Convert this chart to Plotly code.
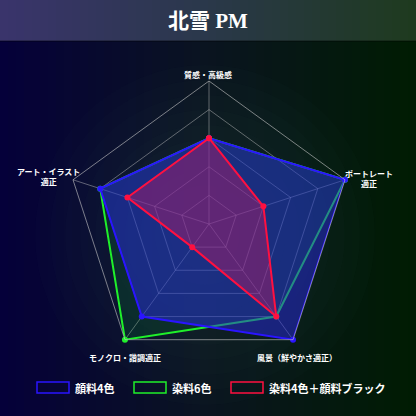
"""
Radar chart - 北雪 PM
"""
import plotly.graph_objects as go

W, H = 416, 416

# --- data ---
title_text = "北雪 PM"
categories = ["質感・高級感", "ポートレート適正", "風景（鮮やかさ適正）", "モノクロ・諧調適正", "アート・イラスト適正"]
label_texts = ["質感・高級感", "ポートレート<br>適正", "風景（鮮やかさ適正）", "モノクロ・諧調適正", "アート・イラスト<br>適正"]
series_names = ["顔料4色", "染料6色", "染料4色＋顔料ブラック"]
pigment4 = [3, 5, 5, 4, 4]
dye6 = [3, 5, 4, 5, 4]
dye4_black = [3, 2, 4, 1, 3]


def px_x(x):
    return x / W


def px_y(y):
    return 1 - y / H


def lerp_color(stops, t):
    """linear interpolation between colour stops [(pos, (r,g,b)), ...]"""
    for (p0, c0), (p1, c1) in zip(stops[:-1], stops[1:]):
        if p0 <= t <= p1:
            k = (t - p0) / (p1 - p0)
            c = [round(a + (b - a) * k) for a, b in zip(c0, c1)]
            return f"rgb({c[0]},{c[1]},{c[2]})"
    c = stops[-1][1]
    return f"rgb({c[0]},{c[1]},{c[2]})"


body_stops = [(0.0, (5, 0, 58)), (0.5, (10, 20, 32)), (1.0, (0, 28, 2))]
band_stops = [(0.0, (58, 52, 108)), (0.5, (42, 56, 74)), (1.0, (30, 58, 30))]

shapes = []
n_strips = 52
for i in range(n_strips):
    t = (i + 0.5) / n_strips
    x0, x1 = i / n_strips, (i + 1) / n_strips + 0.002
    shapes.append(dict(type="rect", xref="paper", yref="paper", x0=x0, x1=x1,
                       y0=0, y1=px_y(41), fillcolor=lerp_color(body_stops, t),
                       line=dict(width=0), layer="below"))
    shapes.append(dict(type="rect", xref="paper", yref="paper", x0=x0, x1=x1,
                       y0=px_y(41), y1=1, fillcolor=lerp_color(band_stops, t),
                       line=dict(width=0), layer="below"))
# soft glow in the middle of the body
for r in range(170, 20, -15):
    shapes.append(dict(type="circle", xref="paper", yref="paper",
                       x0=px_x(205 - r), x1=px_x(205 + r), y0=px_y(235 + r), y1=px_y(235 - r),
                       fillcolor="rgb(70,95,95)", opacity=0.035, line=dict(width=0), layer="below"))
# thin line under the title band
shapes.append(dict(type="line", xref="paper", yref="paper", x0=0, x1=1, y0=px_y(41), y1=px_y(41),
                   line=dict(color="rgba(0,0,0,0.35)", width=1.5), layer="below"))

fig = go.Figure()

styles = [
    (dye6, series_names[1], "#1ff02a", "rgba(0,190,40,0.13)"),
    (pigment4, series_names[0], "#2a14ff", "rgba(40,40,220,0.5)"),
    (dye4_black, series_names[2], "#ff1040", "rgba(255,20,90,0.3)"),
]
for values, name, line_col, fill_col in styles:
    fig.add_trace(go.Scatterpolar(
        r=values + values[:1],
        theta=categories + categories[:1],
        name=name,
        mode="lines+markers",
        fill="toself",
        fillcolor=fill_col,
        line=dict(color=line_col, width=2),
        marker=dict(color=line_col, size=6),
        showlegend=False,
        hoverinfo="skip",
    ))

# polar area : centre (209, 224) px, radius 143 px
cx, cy, R = 209, 224, 143
fig.update_layout(
    width=W, height=H,
    margin=dict(l=0, r=0, t=0, b=0),
    paper_bgcolor="#050020",
    polar=dict(
        domain=dict(x=[px_x(cx - R), px_x(cx + R)], y=[px_y(cy + R), px_y(cy - R)]),
        bgcolor="rgba(0,0,0,0)",
        gridshape="linear",
        angularaxis=dict(rotation=90, direction="clockwise", showticklabels=False,
                         ticks="", linecolor="rgba(200,200,200,0.6)", linewidth=1,
                         gridcolor="rgba(200,200,200,0.45)", gridwidth=1),
        radialaxis=dict(range=[0, 5], dtick=1, showticklabels=False, ticks="",
                        showline=False, gridcolor="rgba(200,200,200,0.45)", gridwidth=1),
    ),
)

font_jp = "Noto Sans CJK JP"
annotations = [
    dict(text=title_text, x=0.5, y=px_y(21), font=dict(family="Liberation Serif, Noto Sans CJK JP",
                                                       size=21, color="white", weight="bold")),
]
label_pos = [(208, 74), (369, 178), (297, 357), (125, 357), (48, 177)]
for text, (x, y) in zip(label_texts, label_pos):
    annotations.append(dict(text=text, x=px_x(x), y=px_y(y),
                            font=dict(family=font_jp, size=8, color="white", weight="bold")))

# legend boxes
legend_items = [(series_names[0], "#2a14ff", 37, 73),
                (series_names[1], "#1ff02a", 134, 170),
                (series_names[2], "#ff1040", 231, 267)]
for name, col, bx, tx in legend_items:
    shapes.append(dict(type="rect", xref="paper", yref="paper",
                       x0=px_x(bx), x1=px_x(bx + 32), y0=px_y(393), y1=px_y(382),
                       line=dict(color=col, width=1.5), fillcolor="rgba(0,0,0,0)"))
    annotations.append(dict(text=name, x=px_x(tx), y=px_y(388), xanchor="left",
                            font=dict(family=font_jp, size=11, color="white", weight="bold")))

for a in annotations:
    a.setdefault("xanchor", "center")
    a.update(xref="paper", yref="paper", showarrow=False, yanchor="middle")
fig.update_layout(annotations=annotations, shapes=shapes)

fig.write_html("out.html", config={"displayModeBar": False},
               post_script="document.body.style.margin='0';document.body.style.overflow='hidden';")
